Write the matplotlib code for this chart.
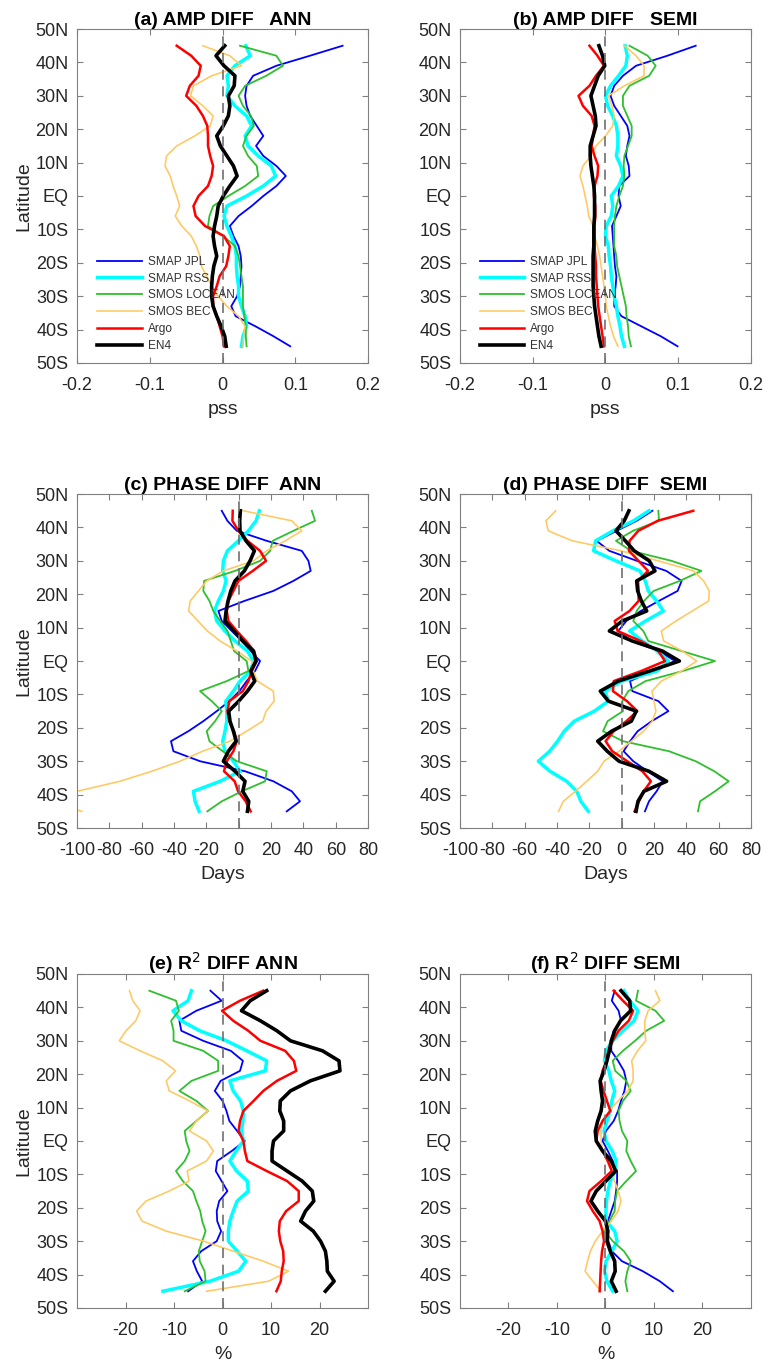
import numpy as np
import matplotlib
matplotlib.use('Agg')
import matplotlib.pyplot as plt

plt.rcParams['font.family'] = ['Liberation Sans', 'DejaVu Sans']
plt.rcParams['axes.unicode_minus'] = False

# latitude grid, south to north
lats = np.arange(-45, 46, 3)

# (a) amplitude difference, annual (pss)
a_jpl = [0.093, 0.07, 0.045, 0.018, 0.012, 0.02, 0.024, 0.025, 0.026, 0.025, 0.022, 0.015, 0.01, 0.022, 0.04, 0.056, 0.074, 0.087, 0.074, 0.056, 0.046, 0.056, 0.047, 0.038, 0.033, 0.031, 0.033, 0.042, 0.074, 0.12, 0.165]
a_rss = [0.026, 0.028, 0.033, 0.031, 0.026, 0.022, 0.022, 0.02, 0.019, 0.019, 0.017, 0.012, 0.006, 0.002, 0.006, 0.033, 0.056, 0.073, 0.067, 0.049, 0.035, 0.031, 0.04, 0.033, 0.017, 0.006, 0.008, 0.006, 0.017, 0.038, 0.032]
a_locean = [0.033, 0.032, 0.032, 0.03, 0.028, 0.028, 0.028, 0.026, 0.024, 0.022, 0.017, 0.001, -0.02, -0.018, -0.013, 0.008, 0.031, 0.049, 0.047, 0.035, 0.028, 0.033, 0.043, 0.039, 0.028, 0.022, 0.031, 0.06, 0.083, 0.074, 0.024]
a_bec = [0.028, 0.029, 0.031, 0.022, 0.006, -0.006, -0.015, -0.022, -0.029, -0.031, -0.036, -0.043, -0.056, -0.065, -0.059, -0.063, -0.068, -0.072, -0.079, -0.077, -0.063, -0.038, -0.017, -0.013, -0.027, -0.044, -0.04, -0.015, 0.026, 0.01, -0.027]
a_argo = [0.002, 0.0, -0.004, -0.008, -0.013, -0.013, -0.008, -0.004, 0.005, 0.008, 0.01, 0.002, -0.024, -0.037, -0.04, -0.033, -0.02, -0.015, -0.013, -0.017, -0.02, -0.02, -0.021, -0.027, -0.036, -0.05, -0.045, -0.033, -0.03, -0.043, -0.063]
a_en4 = [0.005, 0.003, -0.002, -0.008, -0.013, -0.015, -0.015, -0.014, -0.012, -0.008, -0.011, -0.013, -0.011, -0.008, -0.006, 0.001, 0.01, 0.02, 0.015, 0.006, -0.003, -0.008, 0.001, 0.008, 0.01, 0.008, 0.016, 0.017, 0.002, -0.009, 0.003]

# (b) amplitude difference, semi-annual (pss)
b_jpl = [0.099, 0.076, 0.049, 0.022, 0.012, 0.012, 0.014, 0.015, 0.013, 0.012, 0.011, 0.01, 0.009, 0.015, 0.021, 0.018, 0.019, 0.033, 0.032, 0.028, 0.03, 0.033, 0.03, 0.021, 0.012, 0.007, 0.012, 0.024, 0.042, 0.085, 0.124]
b_rss = [0.026, 0.022, 0.02, 0.017, 0.015, 0.012, 0.01, 0.008, 0.007, 0.005, 0.004, 0.0, 0.001, 0.008, 0.01, 0.008, 0.018, 0.024, 0.021, 0.015, 0.017, 0.017, 0.015, 0.01, 0.003, 0.0, 0.007, 0.018, 0.028, 0.03, 0.027]
b_locean = [0.035, 0.032, 0.031, 0.029, 0.028, 0.025, 0.022, 0.019, 0.016, 0.015, 0.012, 0.012, 0.012, 0.013, 0.015, 0.019, 0.024, 0.026, 0.025, 0.026, 0.031, 0.036, 0.036, 0.03, 0.024, 0.024, 0.033, 0.06, 0.069, 0.058, 0.033]
b_bec = [0.017, 0.011, 0.007, 0.004, 0.001, 0.0, -0.002, -0.004, -0.006, -0.008, -0.011, -0.015, -0.017, -0.023, -0.025, -0.028, -0.031, -0.035, -0.031, -0.02, -0.013, 0.0, 0.01, 0.012, 0.009, 0.004, 0.026, 0.053, 0.053, 0.042, 0.026]
b_argo = [-0.002, -0.004, -0.006, -0.008, -0.01, -0.011, -0.012, -0.013, -0.013, -0.014, -0.015, -0.015, -0.015, -0.014, -0.014, -0.016, -0.015, -0.011, -0.01, -0.015, -0.019, -0.017, -0.015, -0.019, -0.031, -0.037, -0.022, -0.013, -0.002, -0.011, -0.022]
b_en4 = [-0.006, -0.009, -0.011, -0.013, -0.015, -0.016, -0.017, -0.017, -0.017, -0.017, -0.016, -0.016, -0.016, -0.015, -0.015, -0.015, -0.016, -0.018, -0.02, -0.021, -0.021, -0.017, -0.013, -0.014, -0.017, -0.02, -0.015, -0.01, -0.001, -0.004, -0.009]

# (c) phase difference, annual (days)
c_jpl = [29.7, 37.9, 32.8, 21.4, 3.9, -23.9, -40.4, -41.9, -31.1, -21.9, -13.6, -5.8, 0.4, 4.9, 10.1, 13.2, 7.4, 1.9, -4.3, -10.5, -12.6, 3.5, 21.4, 33.8, 44.5, 43.1, 39, 17.3, -1.2, -7, -10.5]
c_rss = [-24.5, -27, -28, -11.5, 0.8, -3.3, -8.5, -9.9, -8.5, -7.4, -7.4, -8, -3.3, 0.8, 7.4, 9.1, 5.4, -2.3, -8.5, -13.6, -15, -12.6, -9.5, -7.8, -9.9, -9.5, -7, -0.2, 6, 10.7, 12.8]
c_locean = [-19.4, -10.5, 1.9, 16.3, 17.3, -1.2, -9.9, -18.1, -19.8, -14.6, -10.5, -16.7, -23.9, -7.4, 6, 4.9, -2.9, -4.9, -7, -11.5, -15.7, -18.1, -21.9, -21.4, -2.3, 13.2, 19.4, 21, 33.8, 47.2, 45.2]
c_bec = [-97, -118, -100, -73.4, -53.8, -36.3, -22.3, -5.4, 4.9, 14.8, 16.9, 21.9, 21.4, 11.5, 9.1, 8, -1.2, -11.5, -19.4, -25.2, -31, -30, -24.9, -19.8, -9.5, 9.1, 17.3, 28.7, 39, 32.8, 2.9]
c_argo = [7.4, 4.3, -0.4, -2.5, -9.1, -7.4, -3.3, -1.2, -2.9, -5.8, -7, -5.8, 2.5, 6, 8, 11.1, 9.5, 4.5, -1.2, -6.4, -7.4, -6.4, -3.3, -0.2, 8.7, 16.9, 13.2, 5.4, -0.2, -3.9, -3.7]
c_en4 = [5.4, 6.2, 2.5, 3.9, -2.3, -9.5, -6.4, -1.6, -3.3, -5.4, -6.2, 0, 5.4, 9.9, 7.4, 10.7, 9.1, 2.5, -2.9, -8.5, -7.8, -6.6, -4.9, -2.3, 3.5, 7, 9.7, 4.5, 0.8, 0.6, 1]

# (d) phase difference, semi-annual (days)
d_jpl = [14.4, 16.9, 21.6, 25.4, 16, 7.2, 1.2, 5.2, 9.9, 18.6, 28.9, 22.7, 6.6, 5.2, 18.6, 33, 23.1, 6.2, -2.1, 2.9, 11.8, 23, 34.6, 37.1, 27.6, 9.5, -7.6, -15.5, -3.1, 9.3, 19]
d_rss = [-20.6, -25.2, -27.8, -34, -44.3, -51.5, -44.5, -39.6, -35.5, -29.3, -16.9, -8.2, -10.3, 0.2, 21.9, 28.9, 22, 12.8, 4.9, 14.8, 25.8, 21.6, 16.5, 14.6, 11.3, -3.5, -17.3, -16.1, -5.4, 7.4, 16.9]
d_locean = [47.2, 48.5, 57.7, 66.2, 57.3, 45.8, 29.3, 0.8, -11.5, -8.7, 0.8, 0.4, 4.1, 14.8, 37.7, 57.7, 37.1, 16.5, 13.4, 7.2, 9.3, 13.8, 19.8, 36, 49.3, 30.9, 5.8, -3.5, 7, 23.1, 22.7]
d_bec = [-39, -36.1, -28.5, -21.6, -14.8, -10.9, -1.6, 6, 13.6, 19, 21.2, 20, 18.8, 24.5, 37.1, 46.4, 37.5, 26, 24.5, 33.6, 43.7, 53.8, 54.2, 50.7, 44.5, 22.7, -0.4, -30.5, -45.4, -46.8, -40.8]
d_argo = [8, 10.7, 13.6, 18.1, 12.8, 3.5, -5.8, -9.9, -4.9, 2.9, 9.7, 3.3, -5.4, -4.9, 12, 26.8, 22.7, 11.8, -2.5, -4.3, 4.9, 10.5, 10.5, 10.1, 16.3, 10.5, 4.5, 4.9, 10.3, 22.3, 44.3]
d_en4 = [8.9, 10.1, 13.8, 27.8, 16.9, -1.6, -8.9, -14.8, -6.2, 6, 9, -8.2, -13.2, -2.1, 17.3, 35.7, 25.2, 6.6, -7.6, 0.4, 15.5, 12.2, 9.9, 9.3, 20.6, 17.1, 7.8, 2.3, -3.5, 1.6, 4.5]

# (e) R^2 difference, annual (%)
e_jpl = [-7.1, -4.2, -5.3, -6.1, -4.4, -1.2, -0.3, -1.1, -1.2, -0.7, 1, -0.2, -1.4, -1.1, 1.9, 4.6, 3, 1.4, 0.8, 0, -1.6, -0.4, 3.6, 4.2, 1.7, -4, -8.5, -8.9, -5.4, -0.2, -2.5]
e_rss = [-12.3, -2.6, 3.3, 4.8, 3, 1.2, 1.2, 1.5, 2.2, 3, 5.3, 5.1, 2.9, 1.5, 2.8, 4.3, 3.9, 4.2, 4.3, 3.7, 2.2, 1.5, 8.8, 9.1, 5, 0.8, -4.7, -8.5, -10.2, -7.1, -6.4]
e_locean = [-7.8, -3.5, -3.7, -4.7, -4.9, -4.2, -3.5, -4.2, -4.6, -5.4, -6.1, -8.2, -9.6, -7.8, -6.8, -7.5, -7.8, -5.4, -3, -5.4, -8.9, -6.4, -0.9, -0.9, -4, -10.1, -10.1, -10.6, -9, -9.6, -15.1]
e_bec = [-3.3, 9.5, 13.6, 8.4, 2.2, -3.9, -11.6, -16.6, -17.7, -15.8, -11, -6.9, -7.3, -3.3, -1.9, -3.3, -6.8, -5.4, -3, -6.8, -11, -11.6, -9.7, -12.3, -17, -21.3, -19.9, -17.9, -17, -18.5, -19.2]
e_argo = [11.1, 12, 12.2, 12.6, 12.5, 11.9, 11.6, 11.8, 13.1, 15.7, 15.7, 13.3, 9.1, 5.1, 4.6, 4.3, 3.3, 3.6, 4.3, 6.4, 8.4, 11.2, 15.2, 14.7, 12.9, 7.8, 5.3, 2.2, -0.1, 3.6, 8.4]
e_en4 = [21.2, 23, 21.6, 21.5, 21.2, 20.2, 18.7, 16.1, 17.1, 18.8, 18.5, 16.4, 13.3, 10.2, 10.2, 10.5, 12.6, 12.6, 11.8, 11.9, 14, 18.1, 24.2, 24, 20.6, 14, 11.2, 7.8, 3.9, 5.7, 9.1]

# (f) R^2 difference, semi-annual (%)
f_jpl = [13.9, 11.2, 7.7, 3.4, 1.3, 0.6, 0.5, 0.5, 1.2, 1.9, 2.2, 2.4, 2.4, 1.5, 0.5, -0.6, 0.1, 1.7, 2.6, 3.2, 3.9, 4.3, 3.8, 2.6, 1.2, 1.2, 1.7, 3.2, 2.7, 1.3, 1.9]
f_rss = [1.5, 0.3, -0.2, 0.1, 1.3, 2.4, 1.9, 0.1, 0.1, 0.2, 0.5, 1, 2, 2.2, 1.4, 0.1, -0.3, 0.3, 1, 1.3, 1.9, 1.2, 0.7, -0.2, 0.1, 1.5, 3.6, 5.9, 6.7, 5, 3.8]
f_locean = [4.5, 4.1, 4.5, 5.2, 3.8, 1.5, -0.2, 0.8, 1.9, 2, 2.4, 4.3, 6.3, 5.2, 4.3, 4.5, 3.4, 2.9, 2.7, 3.6, 5.2, 4.3, 2, 1.5, 3.6, 6.1, 8.4, 12.1, 10.3, 6.3, 6.7]
f_bec = [-0.9, -2.6, -4.2, -3.7, -3.1, -2.1, -0.6, 1.2, 2.6, 3.2, 2.6, 1.9, 1.2, 0.3, -0.6, -0.9, -0.9, -0.6, 0.8, 2.6, 4.6, 5.7, 5.7, 5.4, 6.6, 8.3, 8.1, 8.1, 8.8, 11.2, 10.3]
f_argo = [-1.2, -1.1, -1, -0.9, -0.7, -0.3, -0.6, -1.2, -2.6, -3.8, -3.3, -0.9, 1.3, 0.5, -0.6, -1.9, -1.6, -0.6, 1, 0.3, -0.4, -1, -0.6, 0.2, 0.6, 1.5, 2.7, 4.8, 5.7, 3.6, 1.7]
f_en4 = [2.2, 1.2, 2, 1.9, 1, 0.3, 0.5, 0, -1.6, -3, -1.9, 0.1, 2.1, 1.2, -0.6, -1.9, -2.1, -1.6, -0.9, -0.6, -0.9, -1.1, -0.3, 0.3, 0.8, 1.2, 1.9, 3.1, 5.2, 5, 3.2]

names = ['SMAP JPL', 'SMAP RSS', 'SMOS LOCEAN', 'SMOS BEC', 'Argo', 'EN4']
colors = ['#0000ff', '#00ffff', '#2fbf2f', '#ffc860', '#ff0000', '#000000']
widths = [1.3, 2.5, 1.3, 1.15, 1.8, 2.6]

lat_ticks = np.arange(-50, 51, 10)
lat_labels = ['50S', '40S', '30S', '20S', '10S', 'EQ', '10N', '20N', '30N', '40N', '50N']

panels = [
    ('(a) AMP DIFF   ANN', [a_jpl, a_rss, a_locean, a_bec, a_argo, a_en4], (-0.2, 0.2), [-0.2, -0.1, 0, 0.1, 0.2], ['-0.2', '-0.1', '0', '0.1', '0.2'], 'pss'),
    ('(b) AMP DIFF   SEMI', [b_jpl, b_rss, b_locean, b_bec, b_argo, b_en4], (-0.2, 0.2), [-0.2, -0.1, 0, 0.1, 0.2], ['-0.2', '-0.1', '0', '0.1', '0.2'], 'pss'),
    ('(c) PHASE DIFF  ANN', [c_jpl, c_rss, c_locean, c_bec, c_argo, c_en4], (-100, 80), list(range(-100, 81, 20)), None, 'Days'),
    ('(d) PHASE DIFF  SEMI', [d_jpl, d_rss, d_locean, d_bec, d_argo, d_en4], (-100, 80), list(range(-100, 81, 20)), None, 'Days'),
    ('(e) R$^2$ DIFF ANN', [e_jpl, e_rss, e_locean, e_bec, e_argo, e_en4], (-30, 30), [-20, -10, 0, 10, 20], None, '%'),
    ('(f) R$^2$ DIFF SEMI', [f_jpl, f_rss, f_locean, f_bec, f_argo, f_en4], (-30, 30), [-20, -10, 0, 10, 20], None, '%'),
]

fig = plt.figure(figsize=(7.64, 13.63), dpi=100)
lefts = [0.1008, 0.602]
bottoms = [0.7337, 0.3925, 0.0404]

for i, (title, series, xlim, xticks, xlabels, xlab) in enumerate(panels):
    row, col = i // 2, i % 2
    ax = fig.add_axes([lefts[col], bottoms[row], 0.381, 0.245])
    for s, name, c, lw in zip(series, names, colors, widths):
        ax.plot(s, lats, color=c, lw=lw, label=name)
    # zero reference line
    ax.axvline(0, color='#707070', ls=(0, (6, 4)), lw=1.2, zorder=3)
    ax.set_xlim(*xlim)
    ax.set_ylim(-50, 50)
    ax.set_xticks(xticks)
    if xlabels is not None:
        ax.set_xticklabels(xlabels)
    ax.set_yticks(lat_ticks)
    ax.set_yticklabels(lat_labels)
    ax.tick_params(direction='in', top=True, right=True, length=4, width=0.8,
                   colors='#808080', labelcolor='#262626', labelsize=13)
    ax.tick_params(axis='x', pad=10)
    ax.tick_params(axis='y', pad=6)
    for sp in ax.spines.values():
        sp.set_color('#808080')
        sp.set_linewidth(0.8)
    ax.set_title(title, fontsize=14, fontweight='bold', pad=3)
    ax.set_xlabel(xlab, fontsize=14, color='#262626', labelpad=5)
    if col == 0:
        ax.set_ylabel('Latitude', fontsize=14, color='#262626', labelpad=2)
    if row == 0:
        ax.legend(loc='lower left', bbox_to_anchor=(0.035, 0.005), frameon=False,
                  fontsize=8.6, handlelength=3.75, labelspacing=0.4, handletextpad=0.5,
                  borderpad=0.3, labelcolor='#333333')

fig.savefig('out.png', dpi=100)
